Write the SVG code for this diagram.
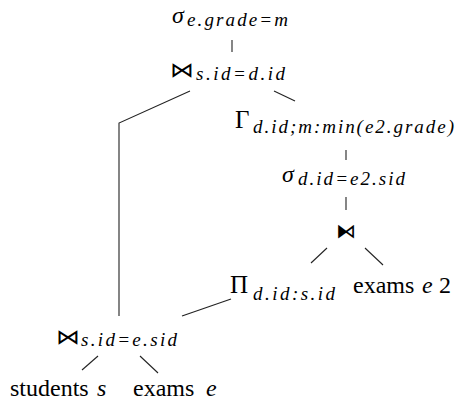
<svg xmlns="http://www.w3.org/2000/svg" width="456" height="405" viewBox="0 0 456 405">
<style>
.t { font-family: 'Liberation Serif', serif; font-size: 24px; fill: #000; }
.i { font-family: 'Liberation Serif', serif; font-style: italic; font-size: 24px; fill: #000; }
.g { font-family: 'Liberation Serif', serif; font-size: 25px; fill: #000; }
.s { font-family: 'Liberation Serif', serif; font-style: italic; font-size: 19px; fill: #000; }
.j { font-family: 'DejaVu Sans Mono', monospace; font-size: 24px; fill: #000; }
.k { font-family: 'DejaVu Sans', sans-serif; font-size: 20px; fill: #000; }
.c line, .c polyline { stroke: #222; stroke-width: 1.1; fill: none; }
</style>
<rect width="456" height="405" fill="#fff"/>
<g class="c" id="connectors">
  <line x1="232" y1="40" x2="232" y2="52"/>
  <polyline points="190,91 119,123 119,316"/>
  <line x1="274" y1="91" x2="295" y2="101"/>
  <line x1="346" y1="150" x2="346" y2="160"/>
  <line x1="346" y1="197" x2="346" y2="210"/>
  <line x1="327" y1="248" x2="311" y2="263"/>
  <line x1="365" y1="248" x2="383" y2="265"/>
  <line x1="182" y1="316" x2="231" y2="299"/>
  <line x1="98" y1="356" x2="82" y2="370"/>
  <line x1="140" y1="356" x2="158" y2="373"/>
</g>
<g id="select_grade">
  <text class="i" x="172" y="23">σ</text>
  <text class="s" x="187" y="26" textLength="101" lengthAdjust="spacing">e.grade=m</text>
</g>
<g id="join_sd">
  <text class="j" transform="translate(170,77) scale(1,0.88)">⋈</text>
  <text class="s" x="196" y="80" textLength="89" lengthAdjust="spacing">s.id=d.id</text>
</g>
<g id="group_min">
  <text class="g" x="235" y="128">Γ</text>
  <text class="s" x="253" y="133" textLength="201" lengthAdjust="spacing">d.id;m:min(e2.grade)</text>
</g>
<g id="select_did">
  <text class="i" x="282" y="182">σ</text>
  <text class="s" x="298" y="185" textLength="107" lengthAdjust="spacing">d.id=e2.sid</text>
</g>
<g id="antijoin">
  <text class="k" x="336" y="238">⧑</text>
</g>
<g id="project">
  <text class="g" x="230" y="293">Π</text>
  <text class="s" x="253" y="300" textLength="82" lengthAdjust="spacing">d.id:s.id</text>
</g>
<g id="exams_e2">
  <text class="t" x="353" y="293">exams</text>
  <text class="i" x="422" y="293">e</text>
  <text class="t" x="439" y="293">2</text>
</g>
<g id="join_se">
  <text class="j" transform="translate(56,344) scale(1,0.88)">⋈</text>
  <text class="s" x="81" y="346" textLength="96" lengthAdjust="spacing">s.id=e.sid</text>
</g>
<g id="students_s">
  <text class="t" x="10" y="396">students</text>
  <text class="i" x="97" y="396">s</text>
</g>
<g id="exams_e">
  <text class="t" x="133" y="396">exams</text>
  <text class="i" x="206" y="396">e</text>
</g>
</svg>
